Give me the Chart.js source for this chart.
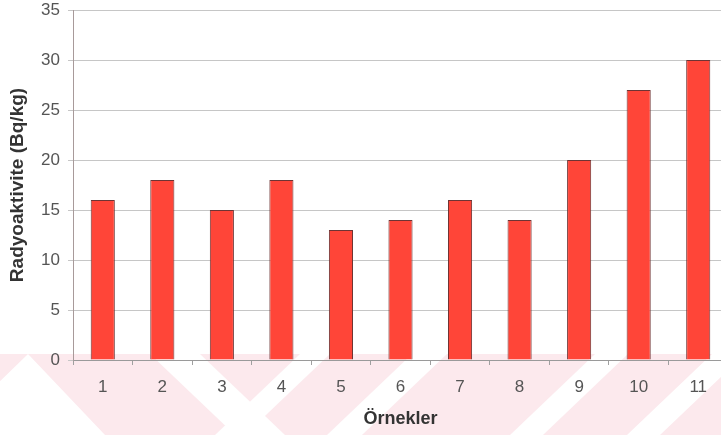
<!DOCTYPE html>
<html>
<head>
<meta charset="utf-8">
<script src="https://cdn.jsdelivr.net/npm/chart.js@4/dist/chart.umd.min.js"></script>
<style>
  html, body { margin: 0; padding: 0; background: #fff; overflow: hidden; }
  #wrap { position: absolute; left: 0; top: 0; width: 728px; height: 435px; }
</style>
</head>
<body>
<div id="wrap"><canvas id="c" width="728" height="435"></canvas></div>
<script>
// Sample numbers and their measured activity (Bq/kg)
const samples = ['1', '2', '3', '4', '5', '6', '7', '8', '9', '10', '11'];
const activity = [16, 18, 15, 18, 13, 14, 16, 14, 20, 27, 30];
const yTicks = [0, 5, 10, 15, 20, 25, 30, 35];

// Pale diagonal band pattern along the bottom of the page
const bandPlugin = {
  id: 'bands',
  beforeDraw(chart) {
    const ctx = chart.ctx;
    const top = 354, bot = 435;
    ctx.save();
    ctx.fillStyle = '#fff';
    ctx.fillRect(0, 0, chart.width, chart.height);
    ctx.fillStyle = '#fce9ed';
    ctx.fillRect(0, top, chart.width, bot - top);
    ctx.fillStyle = '#ffffff';
    const poly = pts => {
      ctx.beginPath();
      pts.forEach(([x, y], i) => (i ? ctx.lineTo(x, y) : ctx.moveTo(x, y)));
      ctx.closePath();
      ctx.fill();
    };
    const quad = (t0, t1, shift) =>
      poly([[t0, top], [t1, top], [t1 + shift, bot], [t0 + shift, bot]]);
    poly([[28, top], [105, bot], [-55, bot]]);
    quad(150, 200, 85);
    quad(300, 330, -85);
    quad(412, 447, -85);
    quad(595, 628, -85);
    quad(712, 745, -85);
    ctx.restore();
  }
};

new Chart(document.getElementById('c'), {
  type: 'bar',
  data: {
    labels: samples,
    datasets: [{
      data: activity,
      backgroundColor: '#ff4538',
      borderColor: '#6e3434',
      borderWidth: 1,
      borderSkipped: 'bottom',
      barPercentage: 0.405,
      categoryPercentage: 1.0
    }]
  },
  options: {
    responsive: false,
    animation: false,
    devicePixelRatio: 1,
    layout: { padding: { top: 10, right: 0, bottom: 0, left: 0 } },
    plugins: { legend: { display: false }, tooltip: { enabled: false } },
    scales: {
      x: {
        offset: true,
        afterFit(s) { s.height = 75; s.paddingLeft = 0; s.paddingRight = 0; },
        grid: {
          offset: true,
          drawOnChartArea: false,
          tickLength: 5,
          color: '#a0a0a0'
        },
        border: { color: '#9a9a9a', width: 1 },
        ticks: {
          color: '#555555',
          padding: 12,
          font: { family: 'Liberation Sans, Arial, sans-serif', size: 17 }
        },
        title: {
          display: true,
          text: 'Örnekler',
          color: '#333333',
          padding: { top: 0, bottom: 5 },
          font: { family: 'Liberation Sans, Arial, sans-serif', size: 18, weight: 'bold' }
        }
      },
      y: {
        min: 0,
        max: 35,
        afterFit(s) { s.width = 73; s.paddingTop = 0; s.paddingBottom = 0; },
        afterBuildTicks(s) { s.ticks = yTicks.map(v => ({ value: v })); },
        grid: {
          color: '#c6c6c6',
          lineWidth: 1,
          tickLength: 5
        },
        border: { color: '#a89a9a', width: 1 },
        ticks: {
          color: '#555555',
          padding: 8,
          font: { family: 'Liberation Sans, Arial, sans-serif', size: 17 }
        },
        title: {
          display: true,
          text: 'Radyoaktivite (Bq/kg)',
          color: '#333333',
          padding: { top: 6, bottom: 0 },
          font: { family: 'Liberation Sans, Arial, sans-serif', size: 19, weight: 'bold' }
        }
      }
    }
  },
  plugins: [bandPlugin]
});
</script>
</body>
</html>
